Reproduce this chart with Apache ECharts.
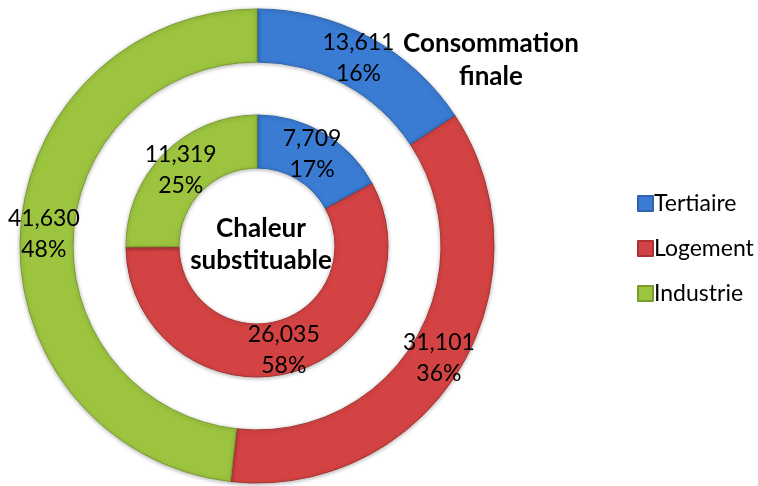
<!DOCTYPE html>
<html>
<head>
<meta charset="utf-8">
<script src="https://cdn.jsdelivr.net/npm/echarts@6/dist/echarts.min.js"></script>
<style>
  html, body { margin: 0; padding: 0; background: #fff; }
  #chart { width: 758px; height: 486px; }
</style>
</head>
<body>
<div id="chart"></div>
<script>
var categories = ['Tertiaire', 'Logement', 'Industrie'];
var finaleValues = [13611, 31101, 41630];
var chaleurValues = [7709, 26035, 11319];
var colors = ['#3a7bd3', '#d44343', '#9cc43f'];
var borders = ['#2f64ad', '#a83232', '#7a9c2e'];

function buildData(values) {
    return categories.map(function(name, i) {
        return {
            name: name,
            value: values[i],
            itemStyle: {
                color: colors[i],
                borderColor: borders[i],
                borderWidth: 1
            }
        };
    });
}

var labelStyle = {
    show: true,
    position: 'inside',
    color: '#000',
    fontFamily: 'Lato',
    fontSize: 23,
    lineHeight: 31,
    formatter: function(p) {
        return p.value.toLocaleString('en-US') + '\n' + Math.round(p.percent) + '%';
    }
};

var dom = document.getElementById('chart');
var myChart = echarts.init(dom);
var option = {
    animation: false,
    title: [{
        text: 'Consommation\nfinale',
        left: 486,
        top: 22,
        textAlign: 'center',
        textStyle: { fontFamily: 'Lato', fontWeight: 'bold', fontSize: 26, lineHeight: 33, color: '#000' }
    }, {
        text: 'Chaleur\nsubstituable',
        left: 256,
        top: 208,
        textAlign: 'center',
        textStyle: { fontFamily: 'Lato', fontWeight: 'bold', fontSize: 26, lineHeight: 32, color: '#000' }
    }],
    legend: {
        data: categories,
        orient: 'vertical',
        left: 632,
        top: 186,
        itemWidth: 15,
        itemHeight: 15,
        itemGap: 20,
        icon: 'rect',
        textStyle: { fontFamily: 'Lato', fontSize: 23, lineHeight: 25, color: '#000', padding: [0, 0, 0, -4] }
    },
    series: [{
        name: 'Consommation finale',
        type: 'pie',
        center: [257, 246],
        radius: [184, 237],
        startAngle: 90,
        clockwise: true,
        label: labelStyle,
        labelLine: { show: false },
        emphasis: { disabled: true },
        itemStyle: { shadowBlur: 4, shadowColor: 'rgba(0,0,0,0.3)', shadowOffsetY: 1 },
        data: buildData(finaleValues)
    }, {
        name: 'Chaleur substituable',
        type: 'pie',
        center: [257, 246],
        radius: [78, 131],
        startAngle: 90,
        clockwise: true,
        label: labelStyle,
        labelLine: { show: false },
        emphasis: { disabled: true },
        itemStyle: { shadowBlur: 4, shadowColor: 'rgba(0,0,0,0.3)', shadowOffsetY: 1 },
        data: buildData(chaleurValues)
    }]
};
myChart.setOption(option, true);
</script>
</body>
</html>
